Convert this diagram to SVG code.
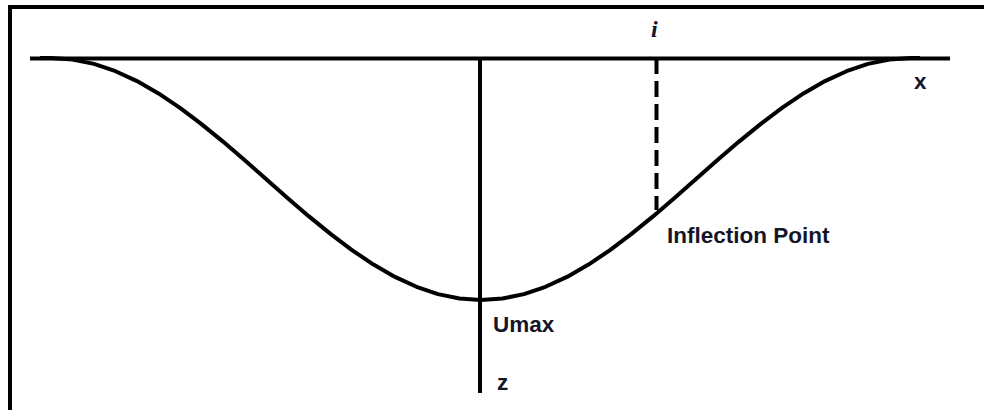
<svg xmlns="http://www.w3.org/2000/svg" width="984" height="410" viewBox="0 0 984 410">
<style>
.ln{stroke:#000;fill:none;stroke-width:4}
.lbl{font-family:"Liberation Sans",Arial,sans-serif;font-weight:bold;font-size:22.5px;fill:#15152a}
</style>
<rect x="0" y="0" width="984" height="410" fill="#fff"/>
<path id="frame" class="ln" d="M10,410 V7 H984"/>
<g id="axes">
<line class="ln" x1="30" y1="58.5" x2="950" y2="58.5"/>
<line class="ln" x1="480" y1="58" x2="480" y2="393"/>
<line class="ln" x1="656.5" y1="58" x2="656.5" y2="210" stroke-width="4.5" stroke-dasharray="16 7"/>
</g>
<path id="curve" class="ln" stroke-linejoin="round" d="M40,58 L51,58 L72.5,59.5 L94,63.9 L115.5,71.2 L137,81.1 L158.5,93.4 L180,107.9 L201.5,124.1 L223,141.6 L244.5,160.1 L266,179 L287.5,197.9 L309,216.4 L330.5,233.9 L352,250.1 L373.5,264.6 L395,276.9 L416.5,286.8 L438,294.1 L459.5,298.5 L481,300 L502.5,298.5 L524,294.1 L545.5,286.8 L567,276.9 L588.5,264.6 L610,250.1 L631.5,233.9 L653,216.4 L674.5,197.9 L696,179 L717.5,160.1 L739,141.6 L760.5,124.1 L782,107.9 L803.5,93.4 L825,81.1 L846.5,71.2 L868,63.9 L889.5,59.5 L911,58 L920,58"/>
<g id="labels">
<text x="651" y="37" font-family="Liberation Serif,serif" font-style="italic" font-weight="bold" font-size="24" fill="#15152a">i</text>
<text class="lbl" x="914" y="89">x</text>
<text class="lbl" x="493" y="332">Umax</text>
<text class="lbl" x="497" y="390">z</text>
<text class="lbl" x="667" y="243">Inflection Point</text>
</g>
</svg>
